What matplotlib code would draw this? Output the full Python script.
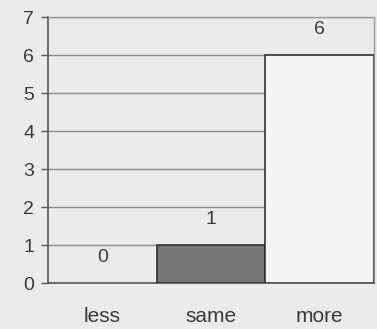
import matplotlib
matplotlib.use("Agg")
import matplotlib.pyplot as plt

plt.rcParams["font.family"] = ["Liberation Sans", "DejaVu Sans"]

categories = ["less", "same", "more"]
values = [0, 1, 6]
bar_colors = ["#ebebeb", "#777777", "#f4f4f4"]
yticks = [0, 1, 2, 3, 4, 5, 6, 7]

bg = "#ebebeb"
fig = plt.figure(figsize=(3.77, 3.29), dpi=100, facecolor=bg)
ax = fig.add_axes([48 / 377, (329 - 283) / 329, (374 - 48) / 377, (283 - 17) / 329])
ax.set_facecolor(bg)

x = range(len(categories))
bars = ax.bar(x, values, width=1.0, color=bar_colors, edgecolor="#333333",
              linewidth=1.2, zorder=3)
bars[0].set_edgecolor("none")

ax.set_xlim(-0.5, 2.5)
ax.set_ylim(0, 7)
ax.set_yticks(yticks)
ax.set_xticks(list(x))
ax.set_xticklabels(categories)
ax.yaxis.grid(True, color="#8a8a8a", linewidth=1.0, zorder=1)
ax.set_axisbelow(True)

ax.tick_params(axis="y", length=5, width=1, color="#555555", labelsize=14,
               labelcolor="#3a3a3a", pad=5)
ax.tick_params(axis="x", length=0, labelsize=15, labelcolor="#3a3a3a", pad=17)

ax.spines["left"].set_color("#555555")
ax.spines["left"].set_linewidth(1.2)
for side in ["top", "right"]:
    ax.spines[side].set_color("#9a9a9a")
    ax.spines[side].set_linewidth(1.0)
ax.spines["bottom"].set_color("#555555")
ax.spines["bottom"].set_linewidth(1.2)

for xi, v in zip(x, values):
    ax.annotate(str(v), (xi, v), xytext=(0, 12), textcoords="offset points",
                ha="center", va="bottom", fontsize=14, color="#3a3a3a", zorder=4)

fig.savefig("out.png", dpi=100, facecolor=bg)
